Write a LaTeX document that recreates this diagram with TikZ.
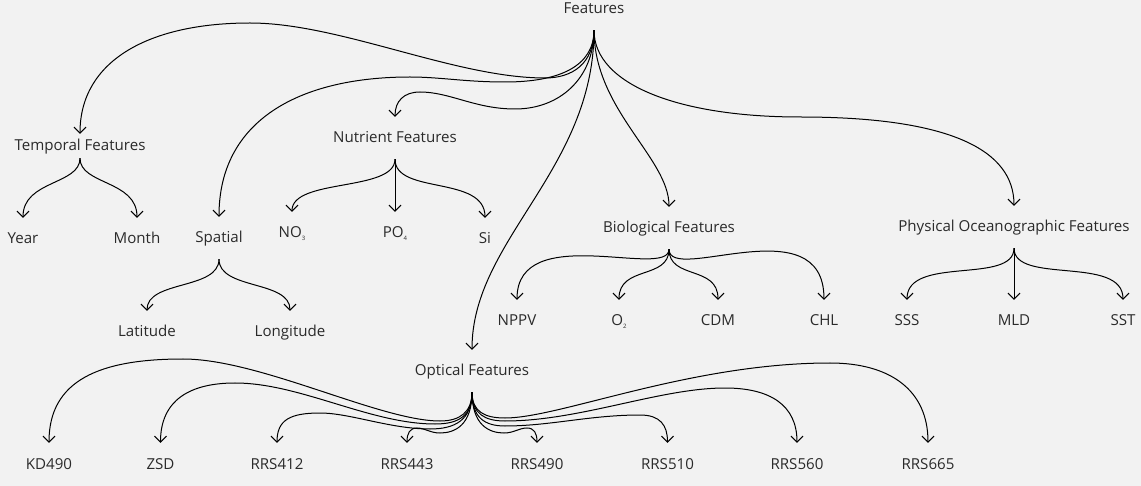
\documentclass[tikz,border=0pt]{standalone}
\usepackage{fontspec}
\setmainfont{Open Sans}
\usetikzlibrary{arrows.meta}
\definecolor{bg}{HTML}{F2F2F2}
\definecolor{txt}{HTML}{2A2A2A}
\newcommand{\chemsub}[1]{\raisebox{-2.5pt}{\fontsize{6}{6}\selectfont #1}}
\begin{document}
\begin{tikzpicture}[x=1pt,y=-1pt,
  lbl/.style={text=txt, font=\fontsize{15.1}{18}\selectfont, text height=10pt, text depth=0pt, inner xsep=0pt, inner ysep=16pt},
  tight/.style={lbl, inner ysep=7pt},
  edge/.style={draw=black, line width=1pt, -{Straight Barb[length=6pt,width=12pt]}}]
\useasboundingbox (0,0) rectangle (1141,486);
\fill[bg] (0,0) rectangle (1141,486);

% nodes
\node[lbl] (feat) at (594,9) {Features};
\node[tight] (temp) at (80,146) {Temporal Features};
\node[lbl] (year) at (23,239) {Year};
\node[lbl] (month) at (137,239) {Month};
\node[lbl] (spat) at (219,238) {Spatial};
\node[lbl] (lat) at (147,332) {Latitude};
\node[lbl] (lon) at (290,332) {Longitude};
\node[lbl] (nutr) at (395,138) {Nutrient Features};
\node[lbl] (no3) at (292,233) {NO\chemsub{3}};
\node[lbl] (po4) at (395,233) {PO\chemsub{4}};
\node[lbl] (si) at (485,239) {Si};
\node[lbl] (bio) at (669,228) {Biological Features};
\node[lbl] (phys) at (1014,227) {Physical Oceanographic Features};
\node[lbl] (nppv) at (517,321) {NPPV};
\node[lbl] (o2) at (619,321) {O\chemsub{2}};
\node[lbl] (cdm) at (718,321) {CDM};
\node[lbl] (chl) at (824,321) {CHL};
\node[lbl] (sss) at (907,321) {SSS};
\node[lbl] (mld) at (1014,321) {MLD};
\node[lbl] (sst) at (1123,321) {SST};
\node[lbl] (opt) at (472,371) {Optical Features};
\node[lbl] (kd) at (49,464) {KD490};
\node[lbl] (zsd) at (160.5,464) {ZSD};
\node[lbl] (r412) at (277,464) {RRS412};
\node[lbl] (r443) at (407,464) {RRS443};
\node[lbl] (r490) at (537,464) {RRS490};
\node[lbl] (r510) at (667.5,464) {RRS510};
\node[lbl] (r560) at (797,464) {RRS560};
\node[lbl] (r665) at (928,464) {RRS665};

% Features fan
\draw[edge] (feat.south) .. controls (594,64) and (572,78) .. (545,78) .. controls (455,78) and (340,23) .. (250,23) .. controls (150,23) and (80,60) .. (temp.north);
\draw[edge] (feat.south) .. controls (594,66) and (560,82) .. (505,82) .. controls (465,82) and (440,77) .. (410,77) .. controls (300,77) and (219,120) .. (spat.north);
\draw[edge] (feat.south) .. controls (594,78) and (560,109) .. (515,109) .. controls (475,109) and (450,92) .. (420,92) .. controls (404,92) and (395,101) .. (nutr.north);
\draw[edge] (feat.south) .. controls (594,170) and (472,240) .. (opt.north);
\draw[edge] (feat.south) .. controls (594,110) and (669,158) .. (bio.north);
\draw[edge] (feat.south) .. controls (594,85) and (680,117) .. (800,117) .. controls (950,117) and (1014,150) .. (phys.north);

% Temporal fan
\draw[edge] (temp.south) .. controls (80,185) and (23,180) .. (year.north);
\draw[edge] (temp.south) .. controls (80,185) and (137,180) .. (month.north);

% Spatial fan
\draw[edge] (spat.south) .. controls (219,290) and (147,280) .. (lat.north);
\draw[edge] (spat.south) .. controls (219,290) and (290,280) .. (lon.north);

% Nutrient fan
\draw[edge] (nutr.south) .. controls (395,192) and (292,178) .. (no3.north);
\draw[edge] (nutr.south) -- (po4.north);
\draw[edge] (nutr.south) .. controls (395,195) and (485,175) .. (si.north);

% Biological fan
\draw[edge] (bio.south) .. controls (669,280) and (517,220) .. (nppv.north);
\draw[edge] (bio.south) .. controls (669,280) and (619,265) .. (o2.north);
\draw[edge] (bio.south) .. controls (669,280) and (718,265) .. (cdm.north);
\draw[edge] (bio.south) .. controls (669,285) and (824,205) .. (chl.north);

% Physical fan
\draw[edge] (phys.south) .. controls (1014,285) and (907,255) .. (sss.north);
\draw[edge] (phys.south) -- (mld.north);
\draw[edge] (phys.south) .. controls (1014,285) and (1123,255) .. (sst.north);

% Optical fan
\draw[edge] (opt.south) .. controls (472,412) and (460,421) .. (440,421) .. controls (380,421) and (260,359) .. (183,359) .. controls (100,359) and (49,380) .. (kd.north);
\draw[edge] (opt.south) .. controls (472,415) and (460,424) .. (435,424) .. controls (370,424) and (300,383) .. (235,383) .. controls (190,383) and (160.5,400) .. (zsd.north);
\draw[edge] (opt.south) .. controls (472,420) and (455,429) .. (430,429) .. controls (390,429) and (350,413) .. (320,413) .. controls (290,413) and (277,420) .. (r412.north);
\draw[edge] (opt.south) .. controls (472,425) and (455,433) .. (440,433) .. controls (430,433) and (425,428) .. (417,428) .. controls (410,428) and (407,433) .. (r443.north);
\draw[edge] (opt.south) .. controls (472,425) and (489,433) .. (504,433) .. controls (514,433) and (519,428) .. (527,428) .. controls (534,428) and (537,433) .. (r490.north);
\draw[edge] (opt.south) .. controls (472,418) and (485,426) .. (505,426) .. controls (550,426) and (590,415) .. (640,415) .. controls (660,415) and (667.5,425) .. (r510.north);
\draw[edge] (opt.south) .. controls (472,414) and (485,421) .. (505,421) .. controls (580,421) and (660,388) .. (725,388) .. controls (770,388) and (797,405) .. (r560.north);
\draw[edge] (opt.south) .. controls (472,412) and (485,418) .. (505,418) .. controls (560,418) and (690,363) .. (830,363) .. controls (890,363) and (928,390) .. (r665.north);
\end{tikzpicture}
\end{document}
